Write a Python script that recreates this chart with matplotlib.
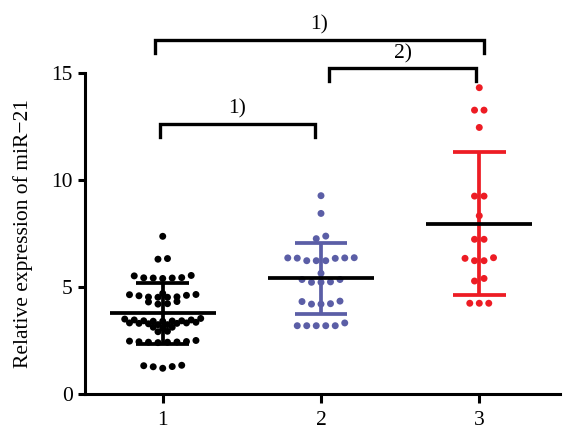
import numpy as np
import matplotlib
matplotlib.use("Agg")
import matplotlib.pyplot as plt

plt.rcParams['font.family'] = ['Liberation Serif', 'DejaVu Serif']

# values
groups = [1, 2, 3]
g1 = [1.18, 1.25, 1.26, 1.30, 1.32,
      2.38, 2.40, 2.40, 2.41, 2.42, 2.43, 2.45, 2.48,
      2.89, 2.91,
      3.06, 3.10, 3.10,
      3.22, 3.22, 3.26, 3.28, 3.28, 3.30, 3.30, 3.33,
      3.38, 3.38, 3.39, 3.40, 3.40, 3.44, 3.44, 3.48, 3.51,
      4.18, 4.20, 4.28, 4.30,
      4.50, 4.50, 4.51, 4.52, 4.57, 4.59, 4.62, 4.63,
      4.68,
      5.38, 5.40, 5.40, 5.41, 5.42, 5.50, 5.52,
      6.28, 6.31,
      7.35]
g2 = [3.17, 3.17, 3.17, 3.17, 3.17, 3.30,
      4.18, 4.18, 4.20, 4.30, 4.32,
      5.20, 5.20, 5.22, 5.33, 5.33,
      5.62,
      6.21, 6.21, 6.21, 6.32, 6.33, 6.34, 6.34, 6.35,
      7.24, 7.36,
      8.42,
      9.25]
g3 = [4.22, 4.22, 4.22,
      5.26, 5.38,
      6.21, 6.21, 6.32, 6.35,
      7.21, 7.21,
      8.31,
      9.23, 9.23,
      12.44,
      13.25, 13.25,
      14.30]
means = [3.75, 5.38, 7.93]
sds = [1.42, 1.64, 3.34]
colors = ['#000000', '#5b5ea6', '#ed1c24']
# comparisons: (x start, x end, height, label)
brackets = [(0.95, 3.03, 16.53, '1)'),
            (2.05, 2.98, 15.20, '2)'),
            (0.98, 1.96, 12.59, '1)')]


def row_offsets(values, step=0.06, tol=0.15):
    v = np.sort(np.asarray(values, dtype=float))
    xs, ys = [], []
    i = 0
    while i < len(v):
        j = i
        while j < len(v) and v[j] - v[i] < tol + 1e-9:
            j += 1
        n = j - i
        if n % 2:
            order = [0] + [s * k for k in range(1, n // 2 + 1) for s in (-1, 1)]
        else:
            order = [s * (k - 0.5) for k in range(1, n // 2 + 1) for s in (-1, 1)]
        xs.extend(np.array(order) * step)
        ys.extend(v[i:j])
        i = j
    return np.array(xs), np.array(ys)


fig = plt.figure(figsize=(5.74, 4.32), dpi=100)
ax = fig.add_axes([0.1481, 0.0891, 0.8275, 0.7426])

for x0, vals, c, m, sd in zip(groups, [g1, g2, g3], colors, means, sds):
    dx, ys = row_offsets(vals)
    ax.scatter(x0 + dx, ys, s=25, color=c, edgecolors='none', zorder=2)
    ax.plot([x0, x0], [m - sd, m + sd], color=c, lw=2.7, zorder=3, solid_capstyle='butt')
    for yy in (m - sd, m + sd):
        ax.plot([x0 - 0.167, x0 + 0.167], [yy, yy], color=c, lw=2.7, zorder=3,
                solid_capstyle='butt')
    ax.plot([x0 - 0.335, x0 + 0.335], [m, m], color='black', lw=2.7, zorder=4,
            solid_capstyle='butt')

for xa, xb, h, lab in brackets:
    ax.plot([xa, xa, xb, xb], [h - 0.6, h, h, h - 0.6], color='black', lw=2.4,
            clip_on=False, solid_joinstyle='miter')
    ax.text((xa + xb) / 2, h + 0.25, lab, ha='center', va='bottom', fontsize=15.5,
            clip_on=False)

ax.set_xlim(0.509, 3.51)
ax.set_ylim(0, 15)
ax.set_xticks(groups)
ax.set_yticks([0, 5, 10, 15])
for s in ['top', 'right']:
    ax.spines[s].set_visible(False)
for s in ['left', 'bottom']:
    ax.spines[s].set_linewidth(2.2)
ax.tick_params(axis='y', length=5, width=2.2, labelsize=15.5, pad=4)
ax.tick_params(axis='x', length=6.5, width=2.2, labelsize=15.5, pad=6)
ax.set_ylabel('Relative expression of miR\u221221', fontsize=15.5, labelpad=13)

fig.savefig('out.png', dpi=100, facecolor='white')
